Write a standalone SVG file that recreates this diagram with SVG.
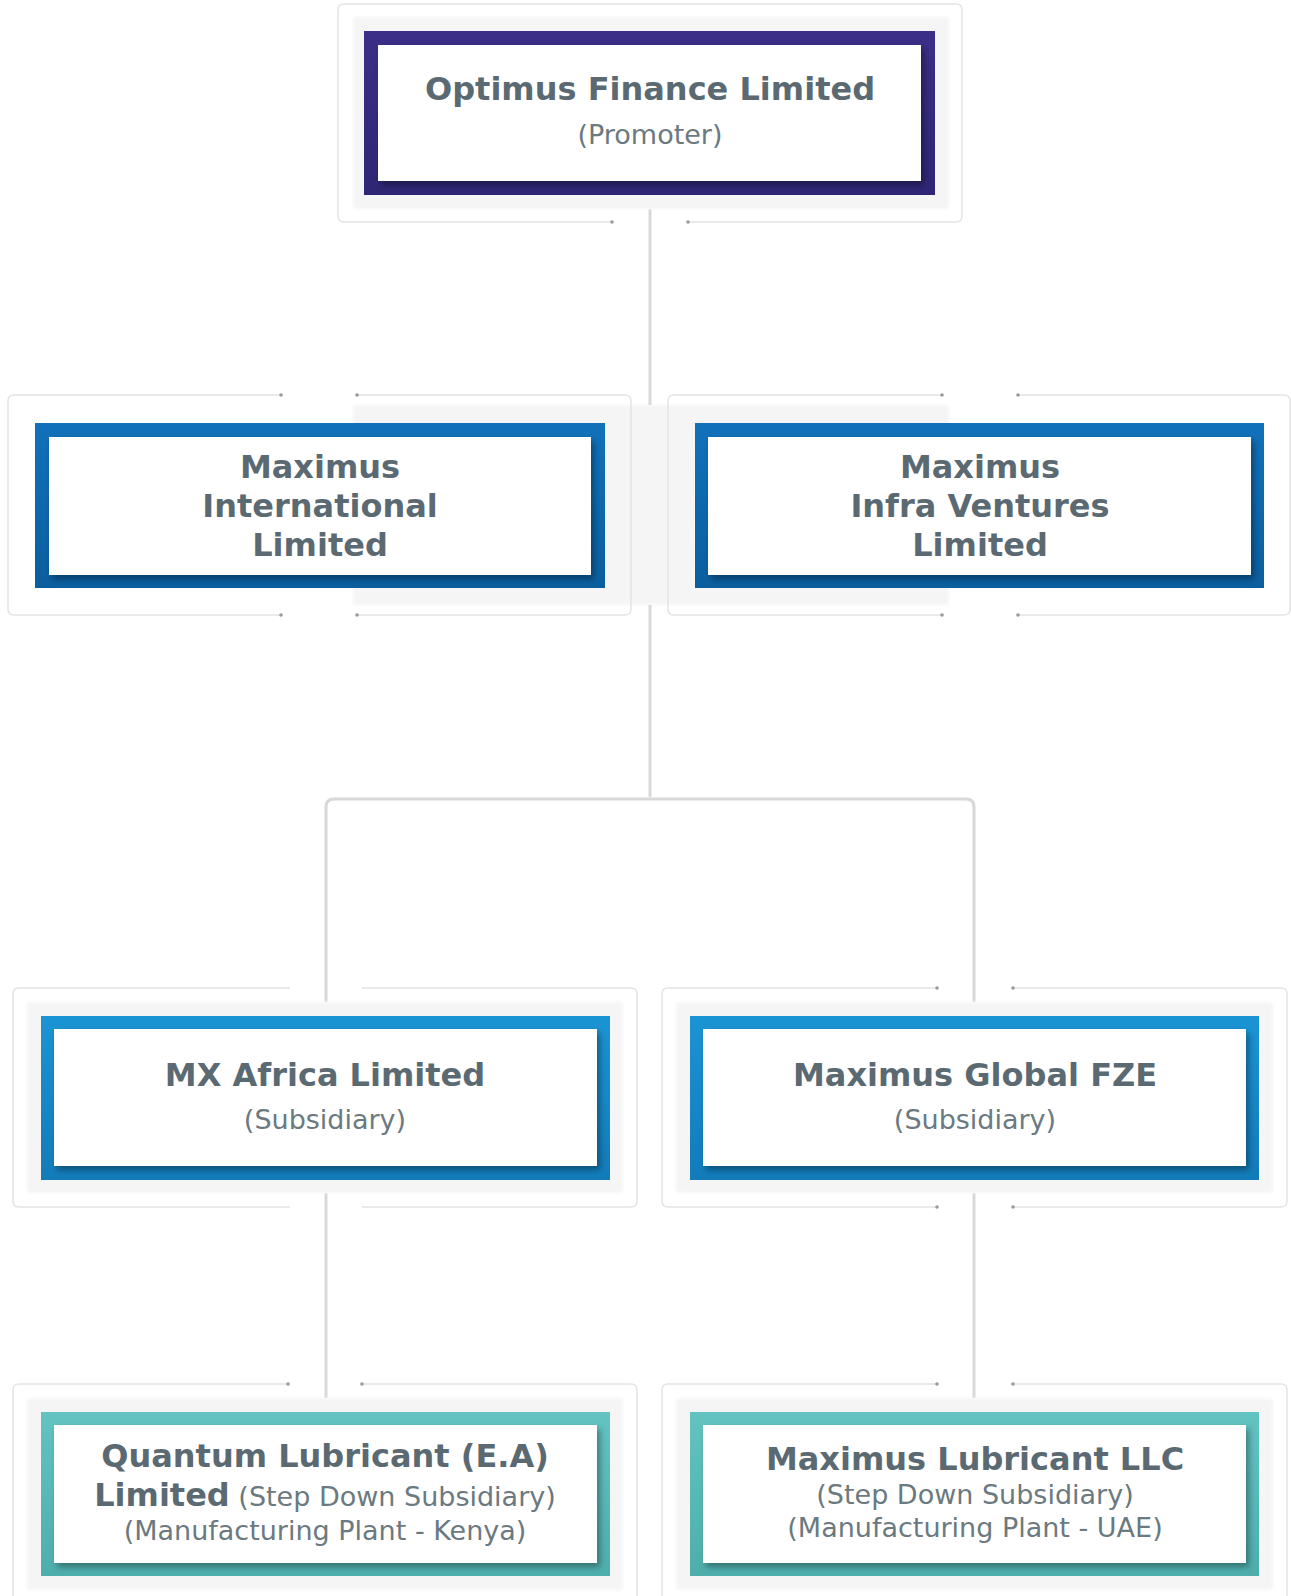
<svg xmlns="http://www.w3.org/2000/svg" width="1291" height="1596" viewBox="0 0 1291 1596">
<style>
.frame{fill:none;stroke:#e4e4e4;stroke-width:1.5}
.band{fill:#f5f5f5}
.inner{fill:#ffffff;filter:url(#sh)}
.dot{fill:#9a9a9a}
.t{font-family:"DejaVu Sans","Liberation Sans",sans-serif;text-anchor:middle}
.b{font-weight:bold;font-size:32px;fill:#5b6a72}
.r{font-weight:normal;font-size:27px;fill:#6b7980}
.conn{fill:none;stroke:#d8d8d8;stroke-width:3}
</style>
<defs>
<filter id="sh" x="-5%" y="-10%" width="110%" height="130%">
<feDropShadow dx="3" dy="4" stdDeviation="3" flood-color="#000" flood-opacity="0.35"/>
</filter>
<filter id="soft" x="-5%" y="-10%" width="110%" height="120%">
<feGaussianBlur stdDeviation="1.5"/>
</filter>
<linearGradient id="gP" x1="0" y1="0" x2="0" y2="1"><stop offset="0" stop-color="#3b2e88"/><stop offset="1" stop-color="#2e2674"/></linearGradient>
<linearGradient id="gB" x1="0" y1="0" x2="0" y2="1"><stop offset="0" stop-color="#1171ba"/><stop offset="1" stop-color="#0b5e9e"/></linearGradient>
<linearGradient id="gL" x1="0" y1="0" x2="0" y2="1"><stop offset="0" stop-color="#1b94d4"/><stop offset="1" stop-color="#127bb9"/></linearGradient>
<linearGradient id="gT" x1="0" y1="0" x2="0" y2="1"><stop offset="0" stop-color="#62c3c1"/><stop offset="1" stop-color="#4eaeac"/></linearGradient>
</defs>

<rect x="0" y="0" width="1291" height="1596" fill="#ffffff"/>

<!-- shared band behind second row -->
<rect class="band" x="353" y="405" width="596" height="200" rx="4" filter="url(#soft)"/>

<g id="connectors">
<path class="conn" d="M650 209 V405"/>
<path class="conn" d="M650 605 V797"/>
<path class="conn" d="M326 1002 V807 Q326 799 334 799 H966 Q974 799 974 807 V1002"/>
<path class="conn" d="M326 1193 V1398"/>
<path class="conn" d="M974 1193 V1398"/>
</g>

<g id="optimus">
<path class="frame" d="M612 222 H344 Q338 222 338 216 V10 Q338 4 344 4 H956 Q962 4 962 10 V216 Q962 222 956 222 H688"/>
<circle class="dot" cx="612" cy="222" r="1.8"/>
<circle class="dot" cx="688" cy="222" r="1.8"/>
<rect class="band" x="353" y="17" width="596" height="192" rx="4" filter="url(#soft)"/>
<rect x="364" y="31" width="571" height="164" fill="url(#gP)"/>
<rect class="inner" x="378" y="45" width="543" height="136"/>
<text class="t b" x="650" y="100">Optimus Finance Limited</text>
<text class="t r" x="650" y="144">(Promoter)</text>
</g>

<g id="maximus-international">
<path class="frame" d="M281 395 H14 Q8 395 8 401 V609 Q8 615 14 615 H281 M357 615 H625 Q631 615 631 609 V401 Q631 395 625 395 H357"/>
<circle class="dot" cx="281" cy="395" r="1.8"/>
<circle class="dot" cx="357" cy="395" r="1.8"/>
<circle class="dot" cx="281" cy="615" r="1.8"/>
<circle class="dot" cx="357" cy="615" r="1.8"/>
<rect x="35" y="423" width="570" height="165" fill="url(#gB)"/>
<rect class="inner" x="49" y="437" width="542" height="138"/>
<text class="t b" x="320" y="478">Maximus</text>
<text class="t b" x="320" y="517">International</text>
<text class="t b" x="320" y="556">Limited</text>
</g>

<g id="maximus-infra">
<path class="frame" d="M942 395 H674 Q668 395 668 401 V609 Q668 615 674 615 H942 M1018 615 H1284 Q1290 615 1290 609 V401 Q1290 395 1284 395 H1018"/>
<circle class="dot" cx="942" cy="395" r="1.8"/>
<circle class="dot" cx="1018" cy="395" r="1.8"/>
<circle class="dot" cx="942" cy="615" r="1.8"/>
<circle class="dot" cx="1018" cy="615" r="1.8"/>
<rect x="695" y="423" width="569" height="165" fill="url(#gB)"/>
<rect class="inner" x="708" y="437" width="543" height="138"/>
<text class="t b" x="980" y="478">Maximus</text>
<text class="t b" x="980" y="517">Infra Ventures</text>
<text class="t b" x="980" y="556">Limited</text>
</g>

<g id="mx-africa">
<path class="frame" d="M290 988 H19 Q13 988 13 994 V1201 Q13 1207 19 1207 H290 M362 1207 H631 Q637 1207 637 1201 V994 Q637 988 631 988 H362"/>
<rect class="band" x="27" y="1002" width="596" height="191" rx="4" filter="url(#soft)"/>
<rect x="41" y="1016" width="569" height="164" fill="url(#gL)"/>
<rect class="inner" x="54" y="1029" width="543" height="137"/>
<text class="t b" x="325" y="1086">MX Africa Limited</text>
<text class="t r" x="325" y="1129">(Subsidiary)</text>
</g>

<g id="maximus-global">
<path class="frame" d="M937 988 H668 Q662 988 662 994 V1201 Q662 1207 668 1207 H937 M1013 1207 H1281 Q1287 1207 1287 1201 V994 Q1287 988 1281 988 H1013"/>
<circle class="dot" cx="937" cy="988" r="1.8"/>
<circle class="dot" cx="1013" cy="988" r="1.8"/>
<circle class="dot" cx="937" cy="1207" r="1.8"/>
<circle class="dot" cx="1013" cy="1207" r="1.8"/>
<rect class="band" x="676" y="1002" width="597" height="191" rx="4" filter="url(#soft)"/>
<rect x="690" y="1016" width="569" height="164" fill="url(#gL)"/>
<rect class="inner" x="703" y="1029" width="543" height="137"/>
<text class="t b" x="975" y="1086">Maximus Global FZE</text>
<text class="t r" x="975" y="1129">(Subsidiary)</text>
</g>

<g id="quantum-lubricant">
<path class="frame" d="M288 1384 H19 Q13 1384 13 1390 V1610 M637 1610 V1390 Q637 1384 631 1384 H362"/>
<circle class="dot" cx="288" cy="1384" r="1.8"/>
<circle class="dot" cx="362" cy="1384" r="1.8"/>
<rect class="band" x="27" y="1398" width="596" height="192" rx="4" filter="url(#soft)"/>
<rect x="41" y="1412" width="569" height="164" fill="url(#gT)"/>
<rect class="inner" x="54" y="1425" width="543" height="138"/>
<text class="t b" x="325" y="1467">Quantum Lubricant (E.A)</text>
<text class="t" x="325" y="1506"><tspan class="b">Limited</tspan><tspan class="r"> (Step Down Subsidiary)</tspan></text>
<text class="t r" x="325" y="1540">(Manufacturing Plant - Kenya)</text>
</g>

<g id="maximus-lubricant">
<path class="frame" d="M937 1384 H668 Q662 1384 662 1390 V1610 M1287 1610 V1390 Q1287 1384 1281 1384 H1013"/>
<circle class="dot" cx="937" cy="1384" r="1.8"/>
<circle class="dot" cx="1013" cy="1384" r="1.8"/>
<rect class="band" x="676" y="1398" width="597" height="192" rx="4" filter="url(#soft)"/>
<rect x="690" y="1412" width="569" height="164" fill="url(#gT)"/>
<rect class="inner" x="703" y="1425" width="543" height="138"/>
<text class="t b" x="975" y="1470">Maximus Lubricant LLC</text>
<text class="t r" x="975" y="1504">(Step Down Subsidiary)</text>
<text class="t r" x="975" y="1537">(Manufacturing Plant - UAE)</text>
</g>
</svg>
